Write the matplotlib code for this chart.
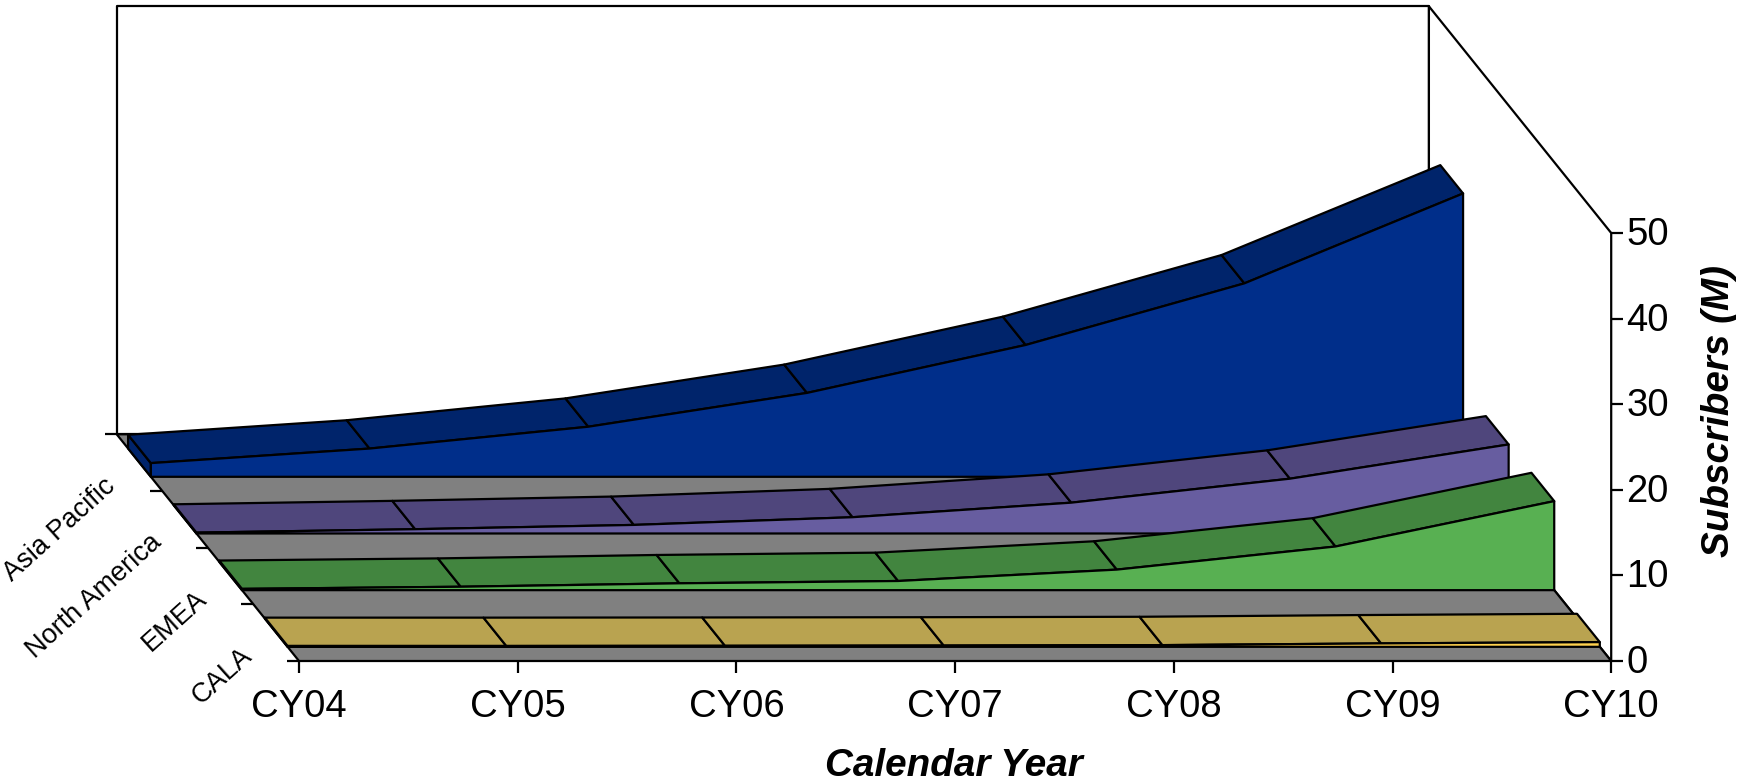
import matplotlib
matplotlib.use('Agg')
import matplotlib.pyplot as plt
from matplotlib.patches import Polygon

plt.rcParams['font.family'] = ['Liberation Sans', 'DejaVu Sans']

years = ['CY04', 'CY05', 'CY06', 'CY07', 'CY08', 'CY09', 'CY10']
y_ticks = [0, 10, 20, 30, 40, 50]
regions = ['CALA', 'EMEA', 'North America', 'Asia Pacific']
cala = [0.1, 0.1, 0.12, 0.15, 0.2, 0.4, 0.55]
emea = [0.15, 0.4, 0.8, 1.07, 2.4, 5.1, 10.4]
north_america = [0.1, 0.5, 1.0, 1.9, 3.6, 6.4, 10.4]
asia_pacific = [1.6, 3.3, 5.85, 9.8, 15.4, 22.6, 33.1]

series = [cala, emea, north_america, asia_pacific]
front_colors = ['#FFD24F', '#58B052', '#675DA0', '#002E8A']
top_colors = ['#B9A350', '#42853F', '#4F467C', '#00246B']
edge = 'black'
lw = 1.6

# pixels of the oblique box
x0, y0 = 299, 661
dx = 218.7
dy = 8.56
depth_x, depth_y = -182.3, -226.7


def project(i, d, v):
    return x0 + i * dx + d * depth_x, y0 - v * dy + d * depth_y


fig = plt.figure(figsize=(17.37, 7.84), dpi=100)
ax = fig.add_axes([0, 0, 1, 1])
ax.set_xlim(0, 1737)
ax.set_ylim(784, 0)
ax.axis('off')


def face(points, color):
    ax.add_patch(Polygon(points, closed=True, facecolor=color, edgecolor=edge,
                         linewidth=lw, joinstyle='round'))


n = len(years) - 1
ymax = y_ticks[-1]

# walls and floor
face([project(0, 1, 0), project(0, 1, ymax), project(n, 1, ymax), project(n, 1, 0)], 'white')
face([project(n, 1, ymax), project(n, 0, ymax), project(n, 0, 0), project(n, 1, 0)], 'white')
face([project(0, 0, 0), project(n, 0, 0), project(n, 1, 0), project(0, 1, 0)], '#808080')

# series, back to front
for k in range(len(series) - 1, -1, -1):
    vals = series[k]
    front = (k + 0.25) / len(series)
    back = (k + 0.75) / len(series)
    face([project(0, front, 0), project(0, front, vals[0]),
          project(0, back, vals[0]), project(0, back, 0)], top_colors[k])
    for i in range(n):
        face([project(i, front, vals[i]), project(i + 1, front, vals[i + 1]),
              project(i + 1, back, vals[i + 1]), project(i, back, vals[i])], top_colors[k])
    outline = [project(0, front, 0)]
    outline += [project(i, front, vals[i]) for i in range(n + 1)]
    outline += [project(n, front, 0)]
    face(outline, front_colors[k])

# x axis ticks and labels
for i, name in enumerate(years):
    px, py = project(i, 0, 0)
    ax.plot([px, px], [py, py + 12], color=edge, lw=lw, solid_capstyle='butt')
    ax.text(px, py + 46, name, ha='center', va='center', fontsize=27.5)

# y axis ticks and labels
for v in y_ticks:
    px, py = project(n, 0, v)
    ax.plot([px, px + 12], [py, py], color=edge, lw=lw, solid_capstyle='butt')
    ax.text(px + 15, py + 2, str(v), ha='left', va='center', fontsize=27.5)

# depth axis ticks and labels
for k in range(len(regions) + 1):
    px, py = project(0, k / len(regions), 0)
    ax.plot([px - 12, px], [py, py], color=edge, lw=lw, solid_capstyle='butt')
for k, name in enumerate(regions):
    px, py = project(0, (k + 0.5) / len(regions), 0)
    ax.text(px - 36, py + 10, name, ha='right', va='top', fontsize=19.5,
            rotation=42, rotation_mode='anchor')

ax.text(954, 766, 'Calendar Year', ha='center', va='center', fontsize=27.8,
        fontweight='bold', fontstyle='italic')
ax.text(1719, 411, 'Subscribers (M)', ha='center', va='center', fontsize=27.8,
        fontweight='bold', fontstyle='italic', rotation=90)

fig.savefig('out.png', dpi=100)
